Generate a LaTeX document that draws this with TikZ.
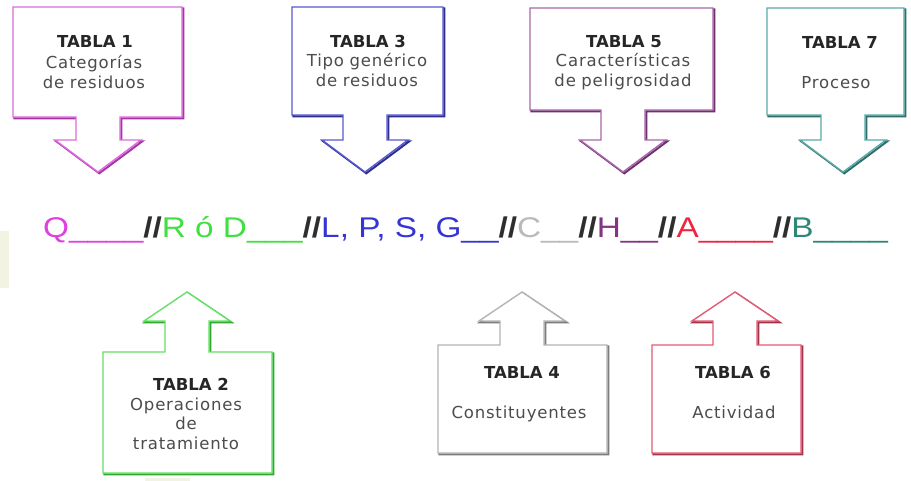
\documentclass[tikz,border=0pt]{standalone}
\usepackage{fontspec}
\usepackage{xcolor}
\newfontfamily\codefamily{Liberation Sans}[FakeStretch=1.17]
\newfontfamily\tablafamily{DejaVu Sans}
\newfontfamily\tablabodyfamily{DejaVu Sans}[LetterSpace=5]
\usetikzlibrary{positioning}
% callout outlines
\definecolor{tabOne}{HTML}{DD6ADD}   \definecolor{tabOneShade}{HTML}{A535A5}
\definecolor{tabTwo}{HTML}{66E066}   \definecolor{tabTwoShade}{HTML}{2FAA2F}
\definecolor{tabThree}{HTML}{5858D0} \definecolor{tabThreeShade}{HTML}{2E2E8E}
\definecolor{tabFour}{HTML}{B4B4B4}  \definecolor{tabFourShade}{HTML}{7C7C7C}
\definecolor{tabFive}{HTML}{A866A8}  \definecolor{tabFiveShade}{HTML}{6E306E}
\definecolor{tabSix}{HTML}{E25A76}   \definecolor{tabSixShade}{HTML}{A3334A}
\definecolor{tabSeven}{HTML}{5AAAA6} \definecolor{tabSevenShade}{HTML}{2F6E6A}
% code line
\definecolor{colQ}{HTML}{E040E0}
\definecolor{colRD}{HTML}{3FE03F}
\definecolor{colLPSG}{HTML}{3535D5}
\definecolor{colC}{HTML}{BABABA}
\definecolor{colH}{HTML}{833483}
\definecolor{colA}{HTML}{F0243F}
\definecolor{colB}{HTML}{2E8878}
\definecolor{colSlash}{HTML}{2E2E2E}
\definecolor{paleBack}{HTML}{F2F3E0}
\newcommand{\codeslash}{\textcolor{colSlash}{\textbf{//}}}
% box with arrow pointing down / up: left, right, top, bottom, arrow x
\newcommand{\calloutdown}[5]{(#1,#3) -- (#2,#3) -- (#2,#4) -- ({#5+22},#4) -- ({#5+22},140)
	-- ({#5+43},140) -- (#5,172) -- ({#5-43},140) -- ({#5-22},140) -- ({#5-22},#4) -- (#1,#4) -- cycle}
\newcommand{\calloutup}[5]{(#1,#3) -- ({#5-22},#3) -- ({#5-22},321) -- ({#5-43},321) -- (#5,292)
	-- ({#5+43},321) -- ({#5+22},321) -- ({#5+22},#3) -- (#2,#3) -- (#2,#4) -- (#1,#4) -- cycle}
\tikzset{
	callout shadow/.style={draw=#1, line width=2pt, line join=miter, shift={(1.3,1.3)}},
	callout/.style={draw=#1, fill=white, line width=1.4pt, line join=miter},
	tabla title/.style={font=\tablafamily\bfseries\fontsize{16.5}{19}\selectfont,
		text=black!85, inner sep=0pt, anchor=base},
	tabla body/.style={font=\tablabodyfamily\fontsize{16.5}{19.5}\selectfont,
		text=black!70, inner sep=0pt, anchor=base, align=center, text width=190pt},
	code line/.style={font=\codefamily\fontsize{28.5}{30}\selectfont, inner sep=0pt, anchor=base west}
}

\begin{document}
\begin{tikzpicture}[x=1pt, y=-1pt]
	\useasboundingbox[fill=white] (0,0) rectangle (911,481);
	\fill[paleBack] (0,231) rectangle (9,288);
	\fill[paleBack] (145,478) rectangle (190,481);
	% upper callouts
	\draw[callout shadow=tabOneShade] \calloutdown{13}{182}{7}{117}{98};
	\draw[callout=tabOne] \calloutdown{13}{182}{7}{117}{98};
	\draw[callout shadow=tabThreeShade] \calloutdown{292}{443}{7}{115}{365};
	\draw[callout=tabThree] \calloutdown{292}{443}{7}{115}{365};
	\draw[callout shadow=tabFiveShade] \calloutdown{530}{713}{8}{110}{623};
	\draw[callout=tabFive] \calloutdown{530}{713}{8}{110}{623};
	\draw[callout shadow=tabSevenShade] \calloutdown{767}{904}{8}{115}{843};
	\draw[callout=tabSeven] \calloutdown{767}{904}{8}{115}{843};
	% lower callouts
	\draw[callout shadow=tabTwoShade] \calloutup{103}{272}{352}{473}{187};
	\draw[callout=tabTwo] \calloutup{103}{272}{352}{473}{187};
	\draw[callout shadow=tabFourShade] \calloutup{438}{607}{345}{453}{522};
	\draw[callout=tabFour] \calloutup{438}{607}{345}{453}{522};
	\draw[callout shadow=tabSixShade] \calloutup{652}{801}{345}{453}{735};
	\draw[callout=tabSix] \calloutup{652}{801}{345}{453}{735};

	\node[tabla title] (t1title) at (95,48) {TABLA 1};
	\node[tabla body] (t1body) at (94,69) {Categorías\\de residuos};
	\node[tabla title] (t3title) at (368,48) {TABLA 3};
	\node[tabla body] (t3body) at (367,67) {Tipo genérico\\de residuos};
	\node[tabla title] (t5title) at (624,48) {TABLA 5};
	\node[tabla body] (t5body) at (623,67) {Características\\de peligrosidad};
	\node[tabla title] (t7title) at (840,49) {TABLA 7};
	\node[tabla body] (t7body) at (836,89) {Proceso};
	\node[tabla title] (t2title) at (191,390) {TABLA 2};
	\node[tabla body] (t2body) at (186,410) {Operaciones\\de\\tratamiento};
	\node[tabla title] (t4title) at (522,378) {TABLA 4};
	\node[tabla body] (t4body) at (519,418) {Constituyentes};
	\node[tabla title] (t6title) at (733,378) {TABLA 6};
	\node[tabla body] (t6body) at (734,418) {Actividad};

	\node[code line] (code) at (43,238) {\textcolor{colQ}{Q\_\_\_\_}\codeslash
		\textcolor{colRD}{R ó D\_\_\_}\codeslash\textcolor{colLPSG}{L, P, S, G\_\_}\codeslash
		\textcolor{colC}{C\_\_}\codeslash\textcolor{colH}{H\_\_}\codeslash
		\textcolor{colA}{A\_\_\_\_}\codeslash\textcolor{colB}{B\_\_\_\_}};
\end{tikzpicture}
\end{document}
